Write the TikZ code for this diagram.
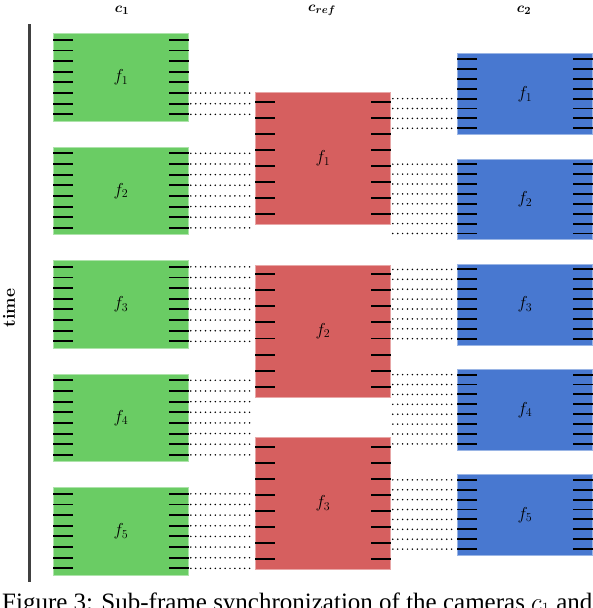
\documentclass[tikz,border=0pt]{standalone}
\usepackage{bm}
\usepackage{fontspec}
\newfontfamily\capfont{Liberation Serif}
\usetikzlibrary{calc}
\definecolor{mgreen}{HTML}{6ACC64}
\definecolor{mred}{HTML}{D65F5F}
\definecolor{mblue}{HTML}{4878D0}
\begin{document}
\begin{tikzpicture}[x=1pt,y=-1pt,
  frame/.style={rectangle, inner sep=0pt, minimum width=135pt, line width=0.8pt, font=\fontsize{16.5}{16.5}\selectfont},
  gframe/.style={frame, fill=mgreen, draw=mgreen!55!white, minimum height=87.4pt},
  rframe/.style={frame, fill=mred, draw=mred!55!white, minimum height=132.3pt},
  bframe/.style={frame, fill=mblue, draw=mblue!55!white, minimum height=80.8pt},
  tickmark/.style={line width=1.9pt, black},
  dotline/.style={line width=1.7pt, line cap=round, dash pattern=on 0pt off 4.9pt, black, shorten <=2pt, shorten >=2pt},
  title/.style={font=\fontsize{15}{15}\selectfont},
]
\useasboundingbox (0,0) rectangle (592,608);
% axis
\coordinate (ta) at (29,24);
\coordinate (tb) at (29,582);
\draw[line width=3pt, black!75] (ta) -- (tb);
\node[rotate=90, font=\bfseries\fontsize{17.5}{17.5}\selectfont] (time) at (9,308) {time};
% titles
\node[title] (tc1) at (122,10) {$\bm{c_1}$};
\node[title] (tcr) at (322,10.5) {$\bm{c_{ref}}$};
\node[title] (tc2) at (524,10) {$\bm{c_2}$};
% green frames
\foreach \k [evaluate=\k as \n using int(\k+1), evaluate=\k as \t using 33.3+113.5*\k] in {0,...,4} {
  \node[gframe, anchor=north west] (g\n) at (53,\t) {$f_{\n}$};
  \foreach \i in {0,...,7} {
    \coordinate (gL\n-\i) at ($(g\n.north west)+(0,6.5+10.65*\i)$);
    \coordinate (gR\n-\i) at ($(g\n.north east)+(0,6.5+10.65*\i)$);
    \draw[tickmark] (gL\n-\i) -- ++(19.5,0);
    \draw[tickmark] (gR\n-\i) -- ++(-19.5,0);
  }
}
% red frames
\foreach \k [evaluate=\k as \n using int(\k+1), evaluate=\k as \t using 92+172.5*\k] in {0,...,2} {
  \node[rframe, anchor=north west] (r\n) at (255,\t) {$f_{\n}$};
  \foreach \i in {0,...,7} {
    \coordinate (rL\n-\i) at ($(r\n.north west)+(0,9.6+16.1*\i)$);
    \coordinate (rR\n-\i) at ($(r\n.north east)+(0,9.6+16.1*\i)$);
    \draw[tickmark] (rL\n-\i) -- ++(19.5,0);
    \draw[tickmark] (rR\n-\i) -- ++(-19.5,0);
  }
}
% blue frames
\foreach \k [evaluate=\k as \n using int(\k+1), evaluate=\k as \t using 53.3+105.2*\k] in {0,...,4} {
  \node[bframe, anchor=north west] (b\n) at (457,\t) {$f_{\n}$};
  \foreach \i in {0,...,7} {
    \coordinate (bL\n-\i) at ($(b\n.north west)+(0,5.7+9.9*\i)$);
    \coordinate (bR\n-\i) at ($(b\n.north east)+(0,5.7+9.9*\i)$);
    \draw[tickmark] (bL\n-\i) -- ++(19.5,0);
    \draw[tickmark] (bR\n-\i) -- ++(-19.5,0);
  }
}
% dotted connectors c1 -> cref
\foreach \n/\f/\r in {1/5/1, 2/0/1, 3/0/2, 4/0/2, 5/0/3} {
  \foreach \i in {\f,...,7} {
    \draw[dotline] (gR\n-\i) -- (gR\n-\i -| r\r.west);
  }
}
% dotted connectors cref -> c2
\foreach \n/\f/\r in {1/4/1, 2/0/1, 3/0/2, 4/0/2, 5/0/3} {
  \foreach \i in {\f,...,7} {
    \draw[dotline] (bL\n-\i -| r\r.east) -- (bL\n-\i);
  }
}
% caption (cut by the page edge)
\node[anchor=base west, inner sep=0pt, font=\capfont\fontsize{25}{27}\selectfont] (cap) at (2,610.5) {Figure 3: Sub-frame synchronization of the cameras $c_1$ and};
\end{tikzpicture}
\end{document}
